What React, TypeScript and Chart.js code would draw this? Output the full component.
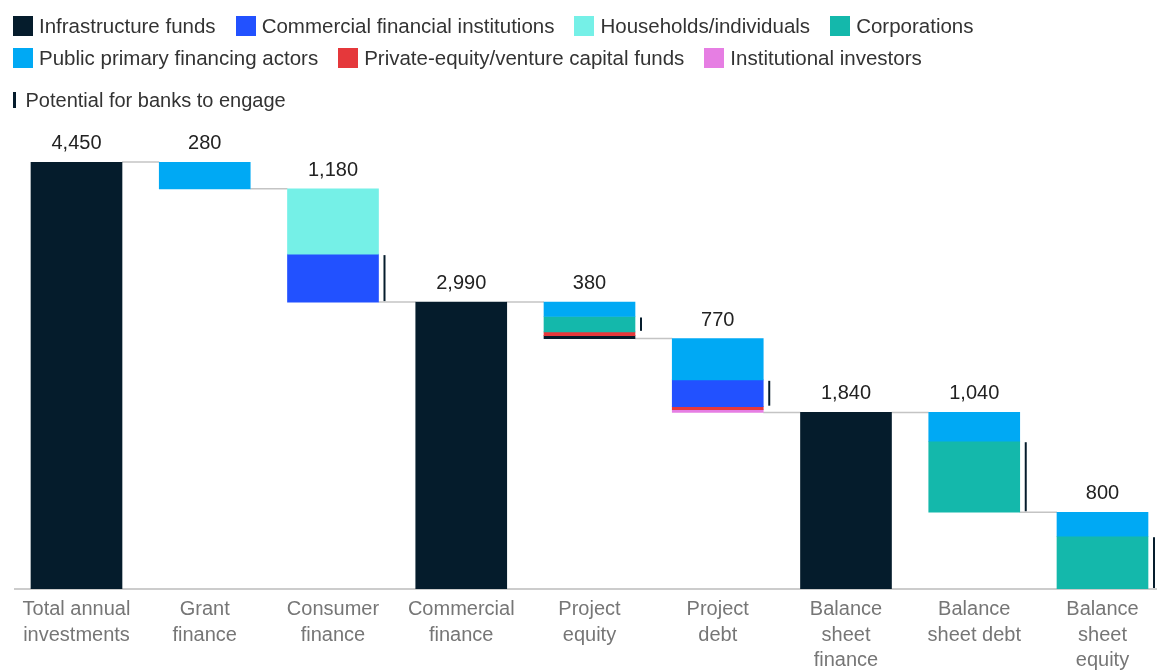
import React, { useEffect, useRef } from "react";
import { Chart, registerables } from "chart.js";

Chart.register(...registerables);

// ---------- Data ----------
const categories = [
  "Total annual investments",
  "Grant finance",
  "Consumer finance",
  "Commercial finance",
  "Project equity",
  "Project debt",
  "Balance sheet finance",
  "Balance sheet debt",
  "Balance sheet equity",
];

const tickLabels: string[][] = [
  ["Total annual", "investments"],
  ["Grant", "finance"],
  ["Consumer", "finance"],
  ["Commercial", "finance"],
  ["Project", "equity"],
  ["Project", "debt"],
  ["Balance", "sheet", "finance"],
  ["Balance", "sheet debt"],
  ["Balance", "sheet", "equity"],
];

// true = full bar from zero, false = step down from running level
const isTotal = [true, false, false, true, false, false, true, false, false];

const infrastructureFunds = [4450, 0, 0, 2990, 30, 0, 1840, 0, 0];
const commercialFinancialInstitutions = [0, 0, 500, 0, 0, 280, 0, 0, 0];
const householdsIndividuals = [0, 0, 680, 0, 0, 0, 0, 0, 0];
const corporations = [0, 0, 0, 0, 160, 0, 0, 740, 550];
const publicPrimaryFinancingActors = [0, 280, 0, 0, 150, 430, 0, 300, 250];
const privateEquityVentureCapital = [0, 0, 0, 0, 40, 30, 0, 0, 0];
const institutionalInvestors = [0, 0, 0, 0, 0, 30, 0, 0, 0];

// segment marked as "potential for banks to engage" per category
const bankEngage: (string | null)[] = [
  null,
  null,
  "commercial",
  null,
  "corporations",
  "commercial",
  null,
  "corporations",
  "corporations",
];

type Series = { key: string; label: string; color: string; values: number[] };

const series: Series[] = [
  { key: "infra", label: "Infrastructure funds", color: "#051c2c", values: infrastructureFunds },
  { key: "commercial", label: "Commercial financial institutions", color: "#2251ff", values: commercialFinancialInstitutions },
  { key: "households", label: "Households/individuals", color: "#75f0e7", values: householdsIndividuals },
  { key: "corporations", label: "Corporations", color: "#14b8ab", values: corporations },
  { key: "public", label: "Public primary financing actors", color: "#00a9f4", values: publicPrimaryFinancingActors },
  { key: "pe", label: "Private-equity/venture capital funds", color: "#e5383b", values: privateEquityVentureCapital },
  { key: "institutional", label: "Institutional investors", color: "#e67ee3", values: institutionalInvestors },
];

// stacking order from the top of each bar downwards
const stackOrder = ["public", "households", "commercial", "corporations", "pe", "institutional", "infra"];

// ---------- Derived ----------
const byKey: Record<string, Series> = {};
series.forEach((s) => (byKey[s.key] = s));

const totals = categories.map((_, i) => series.reduce((sum, s) => sum + s.values[i], 0));
const tops: number[] = [];
{
  let level = 0;
  categories.forEach((_, i) => {
    if (isTotal[i]) {
      tops.push(totals[i]);
      level = totals[i];
    } else {
      tops.push(level);
      level -= totals[i];
    }
  });
}

const ranges: Record<string, { x: number; y: [number, number] }[]> = {};
stackOrder.forEach((k) => (ranges[k] = []));
categories.forEach((_, i) => {
  let cursor = tops[i];
  for (const key of stackOrder) {
    const v = byKey[key].values[i];
    if (v > 0) {
      ranges[key].push({ x: i, y: [cursor - v, cursor] });
      cursor -= v;
    }
  }
});

const FONT = "'Liberation Sans', Arial, Helvetica, sans-serif";
const BAR_W = 91;

const overlayPlugin = {
  id: "waterfallOverlay",
  beforeDatasetsDraw(chart: any) {
    const { ctx, scales } = chart;
    const xs = scales.x;
    const ys = scales.y;
    ctx.save();
    ctx.strokeStyle = "#c4c4c4";
    ctx.lineWidth = 1.5;
    for (let i = 0; i < categories.length - 1; i++) {
      const y = ys.getPixelForValue(tops[i + 1]);
      const x1 = xs.getPixelForValue(i) + BAR_W / 2;
      const x2 = xs.getPixelForValue(i + 1) - BAR_W / 2;
      ctx.beginPath();
      ctx.moveTo(x1, y);
      ctx.lineTo(x2, y);
      ctx.stroke();
    }
    ctx.restore();
  },
  afterDatasetsDraw(chart: any) {
    const { ctx, scales } = chart;
    const xs = scales.x;
    const ys = scales.y;
    ctx.save();
    // value labels
    ctx.fillStyle = "#222222";
    ctx.font = `20px ${FONT}`;
    ctx.textAlign = "center";
    ctx.textBaseline = "alphabetic";
    categories.forEach((_, i) => {
      const x = xs.getPixelForValue(i);
      const y = ys.getPixelForValue(tops[i]) - 13;
      ctx.fillText(totals[i].toLocaleString("en-US"), x, y);
    });
    // bank engagement markers
    ctx.strokeStyle = "#051c2c";
    ctx.lineWidth = 2;
    bankEngage.forEach((key, i) => {
      if (!key) return;
      const r = ranges[key].find((d) => d.x === i);
      if (!r) return;
      const x = xs.getPixelForValue(i) + BAR_W / 2 + 6;
      const yTop = ys.getPixelForValue(r.y[1]);
      const yBot = ys.getPixelForValue(r.y[0]);
      ctx.beginPath();
      ctx.moveTo(x, yTop + 1);
      ctx.lineTo(x, yBot - 1);
      ctx.stroke();
    });
    ctx.restore();
  },
};

export default function App() {
  const canvasRef = useRef<HTMLCanvasElement | null>(null);

  useEffect(() => {
    if (!canvasRef.current) return;
    const chart = new Chart(canvasRef.current, {
      type: "bar",
      data: {
        datasets: stackOrder.map((key) => ({
          label: byKey[key].label,
          data: ranges[key] as any,
          backgroundColor: byKey[key].color,
          borderWidth: 0,
          barThickness: BAR_W,
          grouped: false,
        })),
      },
      options: {
        animation: false,
        responsive: true,
        maintainAspectRatio: false,
        layout: { padding: { top: 162, left: 15, right: 0, bottom: 0 } },
        plugins: {
          legend: { display: false },
          tooltip: { enabled: false },
        },
        scales: {
          x: {
            type: "linear",
            bounds: "data",
            offset: false,
            min: -0.4795,
            max: 8.425,
            grid: { display: false, drawTicks: false },
            border: { display: true, color: "#cccccc", width: 2 },
            ticks: {
              autoSkip: false,
              includeBounds: false,
              maxRotation: 0,
              minRotation: 0,
              padding: 8,
              color: "#767676",
              font: { family: FONT, size: 20, lineHeight: 1.27 },
              callback: (v: any) => tickLabels[v] ?? "",
            },
            afterBuildTicks: (scale: any) => {
              scale.ticks = categories.map((_, i) => ({ value: i }));
            },
            afterFit: (scale: any) => {
              scale.height = 82;
            },
          },
          y: {
            type: "linear",
            display: false,
            min: 0,
            max: 4450,
            stacked: false,
          },
        },
      },
      plugins: [overlayPlugin],
    });
    return () => chart.destroy();
  }, []);

  const legendItems = series;

  return (
    <div style={{ position: "absolute", left: 0, top: 0, width: 1157, height: 671, background: "#fff" }}>
      <canvas ref={canvasRef} />
      <div
        style={{
          position: "absolute",
          left: 13,
          top: 10,
          width: 1140,
          display: "flex",
          flexWrap: "wrap",
          columnGap: 20,
          fontFamily: FONT,
          fontSize: 20.5,
          color: "#333333",
        }}
      >
        {legendItems.map((s) => (
          <div key={s.key} style={{ display: "flex", alignItems: "center", height: 32, lineHeight: "32px" }}>
            <span style={{ display: "inline-block", width: 20, height: 20, background: s.color, marginRight: 6 }} />
            <span>{s.label}</span>
          </div>
        ))}
      </div>
      <div
        style={{
          position: "absolute",
          left: 13,
          top: 84,
          height: 32,
          display: "flex",
          alignItems: "center",
          fontFamily: FONT,
          fontSize: 20,
          color: "#333333",
        }}
      >
        <span style={{ display: "inline-block", width: 2.5, height: 16, background: "#051c2c", marginRight: 10 }} />
        <span>Potential for banks to engage</span>
      </div>
    </div>
  );
}
